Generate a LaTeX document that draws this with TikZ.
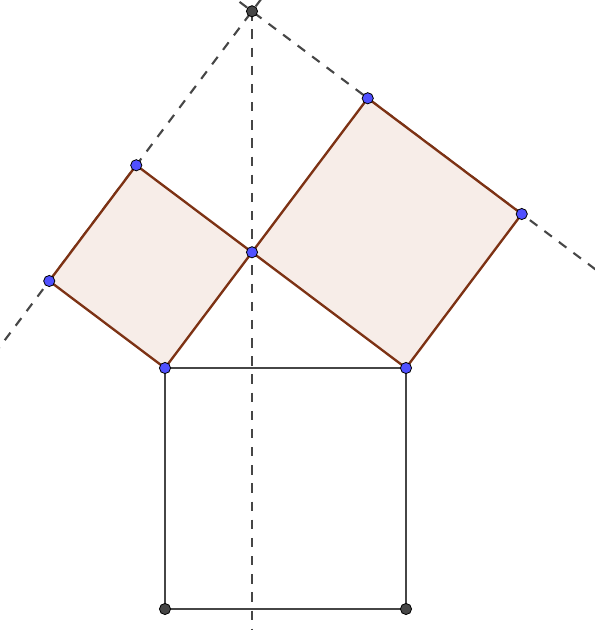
\documentclass[tikz,border=0pt]{standalone}
\usetikzlibrary{calc}
\definecolor{sqfill}{RGB}{247,237,232}
\definecolor{sqedge}{RGB}{125,50,20}
\definecolor{ptblue}{RGB}{80,80,255}
\definecolor{lngray}{RGB}{70,70,70}
\tikzset{
  aux/.style={lngray, line width=1.8pt, dash pattern=on 8pt off 7.5pt},
  sq/.style={fill=sqfill, draw=sqedge, line width=2pt, line join=round},
  pt/.style={circle, draw=black, line width=0.7pt, fill=ptblue, inner sep=0pt, minimum size=9.5pt},
  dpt/.style={pt, fill=lngray}
}
\begin{document}
\begin{tikzpicture}[x=0.03cm, y=-0.03cm]
    \useasboundingbox (0,0) rectangle (595,630);
    \coordinate (A) at (165,368);
    \coordinate (B) at (406,368);
    \coordinate (C) at (252,252.25);
    \coordinate (A1) at (49.25,281);
    \coordinate (C1) at (136.25,165.25);
    \coordinate (C2) at (367.75,98.25);
    \coordinate (B2) at (521.75,214);
    \coordinate (P) at (252,11.25);
    \coordinate (D) at (165,609);
    \coordinate (E) at (406,609);

    \begin{scope}
      \clip (0,0) rectangle (595,630);
      \draw[aux] (P) -- (252,640);
      \draw[aux] ($(P)!-0.1!(A1)$) -- ($(P)!1.4!(A1)$);
      \draw[aux] ($(P)!-0.1!(B2)$) -- ($(P)!1.4!(B2)$);
    \end{scope}

    \draw[sq] (A) -- (C) -- (C1) -- (A1) -- cycle;
    \draw[sq] (C) -- (B) -- (B2) -- (C2) -- cycle;
    \draw[lngray, line width=1.8pt] (A) -- (B) -- (E) -- (D) -- cycle;

    \foreach \p in {A, B, C, A1, C1, C2, B2} { \node[pt] (n\p) at (\p) {}; }
    \foreach \p in {P, D, E} { \node[dpt] (n\p) at (\p) {}; }
  \end{tikzpicture}
\end{document}
